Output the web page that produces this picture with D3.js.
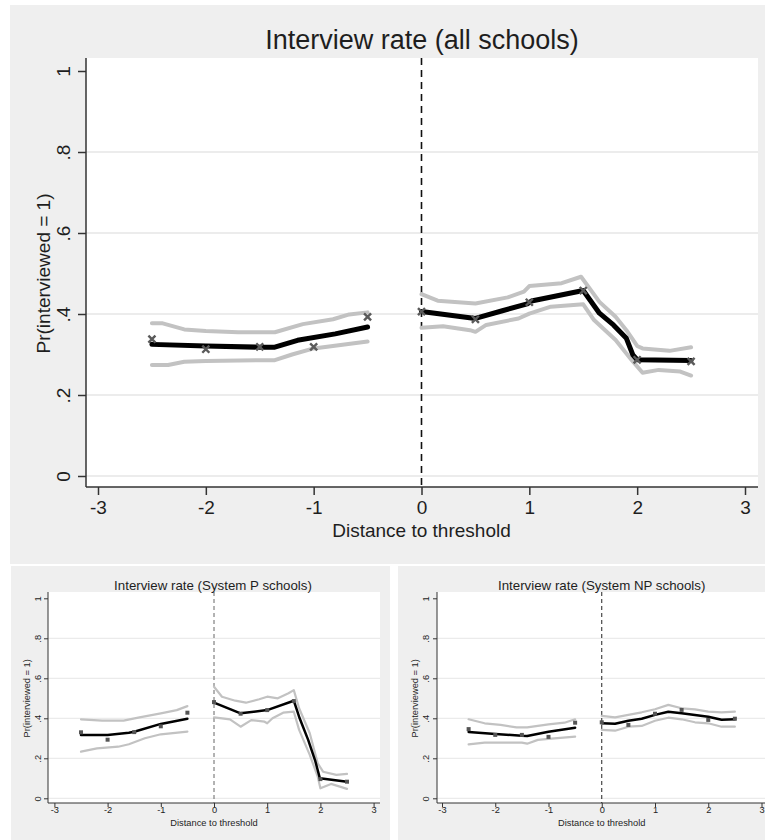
<!DOCTYPE html>
<html><head><meta charset="utf-8">
<script src="https://cdn.jsdelivr.net/npm/d3@7"></script>
<style>body{margin:0;background:#fff;} svg{display:block;} text{font-family:"Liberation Sans",Arial,Helvetica,sans-serif;fill:#1e1e1e;}</style>
</head><body>
<svg id="c" width="765" height="840"></svg>
<script>
// ---- shared ticks / bins ----
const xTicks = [-3,-2,-1,0,1,2,3];
const xTickLabels = ["-3","-2","-1","0","1","2","3"];
const yTicks = [0,0.2,0.4,0.6,0.8,1];
const yTickLabels = ["0",".2",".4",".6",".8","1"];
const gridTicks = [0,0.2,0.4,0.6,0.8];
const binX = [-2.5,-2,-1.5,-1,-0.5,0,0.5,1,1.5,2,2.5];
const xTitle = "Distance to threshold";
const yTitle = "Pr(interviewed = 1)";

// ---- all schools ----
const allMeans = [0.338,0.313,0.319,0.319,0.393,0.406,0.387,0.429,0.458,0.287,0.283];
const allFitL = [[-2.5,0.325],[-2,0.321],[-1.5,0.318],[-1.36,0.318],[-1.15,0.335],[-0.8,0.351],[-0.5,0.368]];
const allUpL  = [[-2.5,0.377],[-2.4,0.377],[-2.2,0.362],[-2.0,0.358],[-1.7,0.355],[-1.36,0.355],[-1.1,0.375],[-0.82,0.387],[-0.67,0.399],[-0.5,0.404]];
const allLoL  = [[-2.5,0.274],[-2.35,0.274],[-2.2,0.282],[-2,0.284],[-1.5,0.286],[-1.36,0.286],[-1.2,0.300],[-1,0.315],[-0.5,0.332]];
const allFitR = [[0,0.406],[0.5,0.389],[0.75,0.408],[0.98,0.425],[1.02,0.432],[1.5,0.458],[1.65,0.402],[1.78,0.373],[1.9,0.340],[1.96,0.299],[2.0,0.287],[2.5,0.285]];
const allUpR  = [[0,0.449],[0.15,0.433],[0.5,0.426],[0.8,0.441],[0.95,0.455],[1.0,0.469],[1.3,0.476],[1.48,0.492],[1.65,0.430],[1.8,0.393],[1.9,0.360],[2.0,0.321],[2.05,0.315],[2.3,0.309],[2.5,0.318]];
const allLoR  = [[0,0.366],[0.2,0.370],[0.45,0.360],[0.5,0.356],[0.6,0.373],[0.9,0.389],[1.0,0.401],[1.2,0.418],[1.5,0.424],[1.6,0.385],[1.8,0.336],[1.95,0.286],[2.05,0.255],[2.2,0.262],[2.4,0.258],[2.5,0.248]];

// ---- System P schools ----
const pMeans = [0.330,0.293,0.331,0.360,0.428,0.481,0.423,0.441,0.486,0.096,0.083];
const pFitL = [[-2.5,0.316],[-2,0.317],[-1.6,0.328],[-1.5,0.333],[-1,0.372],[-0.5,0.398]];
const pUpL  = [[-2.5,0.395],[-2.1,0.388],[-1.7,0.388],[-1.4,0.405],[-1,0.425],[-0.7,0.441],[-0.5,0.461]];
const pLoL  = [[-2.5,0.233],[-2.2,0.25],[-1.8,0.258],[-1.6,0.27],[-1.3,0.30],[-1,0.32],[-0.5,0.333]];
const pFitR = [[0,0.478],[0.5,0.425],[1,0.441],[1.5,0.488],[1.61,0.40],[1.77,0.292],[1.9,0.19],[1.99,0.10],[2.5,0.083]];
const pUpR  = [[0,0.558],[0.15,0.508],[0.4,0.488],[0.6,0.478],[0.85,0.495],[1.0,0.508],[1.2,0.50],[1.4,0.525],[1.5,0.541],[1.6,0.45],[1.8,0.325],[1.95,0.175],[2.05,0.133],[2.3,0.117],[2.5,0.122]];
const pLoR  = [[0,0.405],[0.3,0.395],[0.5,0.358],[0.7,0.391],[0.95,0.383],[1.0,0.375],[1.1,0.40],[1.3,0.428],[1.5,0.433],[1.6,0.342],[1.8,0.217],[1.95,0.108],[2.0,0.05],[2.2,0.072],[2.5,0.047]];

// ---- System NP schools ----
const npMeans = [0.346,0.317,0.317,0.307,0.378,0.380,0.367,0.423,0.442,0.392,0.398];
const npFitL = [[-2.5,0.332],[-2,0.322],[-1.5,0.313],[-1.4,0.312],[-1,0.333],[-0.5,0.353]];
const npUpL  = [[-2.5,0.395],[-2.2,0.375],[-1.9,0.367],[-1.6,0.355],[-1.4,0.355],[-1,0.37],[-0.7,0.378],[-0.5,0.395]];
const npLoL  = [[-2.5,0.27],[-2.2,0.278],[-1.5,0.278],[-1.4,0.273],[-1.2,0.292],[-1,0.297],[-0.5,0.308]];
const npFitR = [[0,0.375],[0.25,0.373],[0.5,0.388],[0.75,0.398],[1,0.417],[1.25,0.433],[1.5,0.425],[2,0.408],[2.25,0.393],[2.5,0.395]];
const npUpR  = [[0,0.412],[0.25,0.405],[0.5,0.417],[0.75,0.43],[1,0.445],[1.25,0.467],[1.5,0.45],[1.75,0.445],[2,0.433],[2.25,0.43],[2.5,0.433]];
const npLoR  = [[0,0.342],[0.25,0.338],[0.5,0.358],[0.75,0.362],[1,0.388],[1.25,0.403],[1.5,0.395],[1.75,0.38],[2,0.375],[2.25,0.358],[2.5,0.358]];

const panels = [
  {title:"Interview rate (all schools)", means:allMeans, fits:[allFitL,allFitR], cis:[allUpL,allLoL,allUpR,allLoR],
   bg:[10,5,755,559], plot:[86,758,58,487], xr:[98,745], yr:[476,71],
   titleXY:[422,40], tFs:27, fs:19, tick:8, yLabX:63, yTitX:43, xLabY:507, xTitY:530,
   fitW:5, ciW:4, gridW:1.5, axW:1.5, dash:"7,5", dashW:1.6, dashC:"#111", marker:"x", mSize:34},
  {title:"Interview rate (System P schools)", means:pMeans, fits:[pFitL,pFitR], cis:[pUpL,pLoL,pUpR,pLoR],
   bg:[11,566,379,274], plot:[48,380,592,803], xr:[54.4,373.6], yr:[798.3,598.3],
   titleXY:[213,585], tFs:13.3, fs:9.3, tick:4, yLabX:37.5, yTitX:27, xLabY:809.5, xTitY:823,
   fitW:2.5, ciW:2.2, gridW:1, axW:1, dash:"4,3", dashW:1, dashC:"#666", marker:"sq", mSize:4},
  {title:"Interview rate (System NP schools)", means:npMeans, fits:[npFitL,npFitR], cis:[npUpL,npLoL,npUpR,npLoR],
   bg:[398,566,367,274], plot:[437,765,592,803], xr:[442,761.5], yr:[798.3,598.3],
   titleXY:[601.7,585], tFs:13.3, fs:9.3, tick:4, yLabX:425.5, yTitX:415, xLabY:809.5, xTitY:823,
   fitW:2.5, ciW:2.2, gridW:1, axW:1, dash:"4,3", dashW:1, dashC:"#222", marker:"sq", mSize:4}
];

const svg = d3.select("#c");
svg.append("rect").attr("width",765).attr("height",840).attr("fill","#fff");

panels.forEach(p => {
  const g = svg.append("g");
  const [bx,by,bw,bh] = p.bg;
  g.append("rect").attr("x",bx).attr("y",by).attr("width",bw).attr("height",bh).attr("fill","#efefef");
  const [px0,px1,py0,py1] = p.plot;
  g.append("rect").attr("x",px0).attr("y",py0).attr("width",px1-px0).attr("height",py1-py0).attr("fill","#fff");

  const x = d3.scaleLinear().domain([-3,3]).range(p.xr);
  const y = d3.scaleLinear().domain([0,1]).range(p.yr);

  // grid
  g.selectAll(null).data(gridTicks).join("line")
    .attr("x1",px0).attr("x2",px1).attr("y1",d=>y(d)).attr("y2",d=>y(d))
    .attr("stroke","#e6e6e6").attr("stroke-width",p.gridW);

  // axes
  const ax = d3.axisBottom(x).tickValues(xTicks).tickFormat((d,i)=>xTickLabels[i]).tickSize(p.tick).tickSizeOuter(0);
  const gx = g.append("g").attr("transform",`translate(0,${py1})`).call(ax);
  gx.select(".domain").remove();
  gx.selectAll("line").attr("stroke","#333").attr("stroke-width",p.axW);
  gx.selectAll("text").attr("y",null).attr("dy",null).attr("transform",`translate(0,${p.xLabY-py1})`)
    .attr("dominant-baseline","central").attr("font-size",p.fs).attr("fill","#1e1e1e")
    .attr("font-family","'Liberation Sans',Arial,Helvetica,sans-serif");

  const ay = d3.axisLeft(y).tickValues(yTicks).tickFormat((d,i)=>yTickLabels[i]).tickSize(p.tick).tickSizeOuter(0);
  const gy = g.append("g").attr("transform",`translate(${px0},0)`).call(ay);
  gy.select(".domain").remove();
  gy.selectAll("line").attr("stroke","#333").attr("stroke-width",p.axW);
  gy.selectAll("text").attr("x",null).attr("dy",null)
    .attr("transform",`translate(${p.yLabX-px0},0) rotate(-90)`)
    .attr("text-anchor","middle").attr("dominant-baseline","central")
    .attr("font-size",p.fs).attr("fill","#1e1e1e")
    .attr("font-family","'Liberation Sans',Arial,Helvetica,sans-serif");

  g.append("line").attr("x1",px0).attr("x2",px0).attr("y1",py0).attr("y2",py1).attr("stroke","#333").attr("stroke-width",p.axW);
  g.append("line").attr("x1",px0).attr("x2",px1).attr("y1",py1).attr("y2",py1).attr("stroke","#333").attr("stroke-width",p.axW);

  // threshold line
  g.append("line").attr("x1",x(0)).attr("x2",x(0)).attr("y1",py0).attr("y2",py1)
    .attr("stroke",p.dashC).attr("stroke-width",p.dashW).attr("stroke-dasharray",p.dash);

  const line = d3.line().x(d=>x(d[0])).y(d=>y(d[1]));
  p.cis.forEach(c => g.append("path").attr("d",line(c)).attr("fill","none").attr("stroke","#c2c2c2")
    .attr("stroke-width",p.ciW).attr("stroke-linecap","round").attr("stroke-linejoin","round"));
  p.fits.forEach(c => g.append("path").attr("d",line(c)).attr("fill","none").attr("stroke","#000")
    .attr("stroke-width",p.fitW).attr("stroke-linecap","round").attr("stroke-linejoin","round"));

  // bin means
  const pts = binX.map((bx,i)=>[bx,p.means[i]]);
  if (p.marker === "x") {
    const sym = d3.symbol().type(d3.symbolX || d3.symbolCross).size(p.mSize);
    g.selectAll(null).data(pts).join("path")
      .attr("d",sym).attr("transform",d=>`translate(${x(d[0])},${y(d[1])})`)
      .attr("fill","none").attr("stroke","#5a5a5a").attr("stroke-width",2.4);
  } else {
    const sym = d3.symbol().type(d3.symbolSquare).size(p.mSize*p.mSize);
    g.selectAll(null).data(pts).join("path")
      .attr("d",sym).attr("transform",d=>`translate(${x(d[0])},${y(d[1])})`)
      .attr("fill","#555");
  }

  // titles
  g.append("text").attr("x",p.titleXY[0]).attr("y",p.titleXY[1]).attr("text-anchor","middle")
    .attr("dominant-baseline","central").attr("font-size",p.tFs).text(p.title);
  g.append("text").attr("x",(px0+px1)/2).attr("y",p.xTitY).attr("text-anchor","middle")
    .attr("dominant-baseline","central").attr("font-size",p.fs).text(xTitle)
    .attr("x", x(0));
  g.append("text").attr("transform",`translate(${p.yTitX},${(p.yr[0]+p.yr[1])/2}) rotate(-90)`)
    .attr("text-anchor","middle").attr("dominant-baseline","central").attr("font-size",p.fs).text(yTitle);
});
</script>
</body></html>
